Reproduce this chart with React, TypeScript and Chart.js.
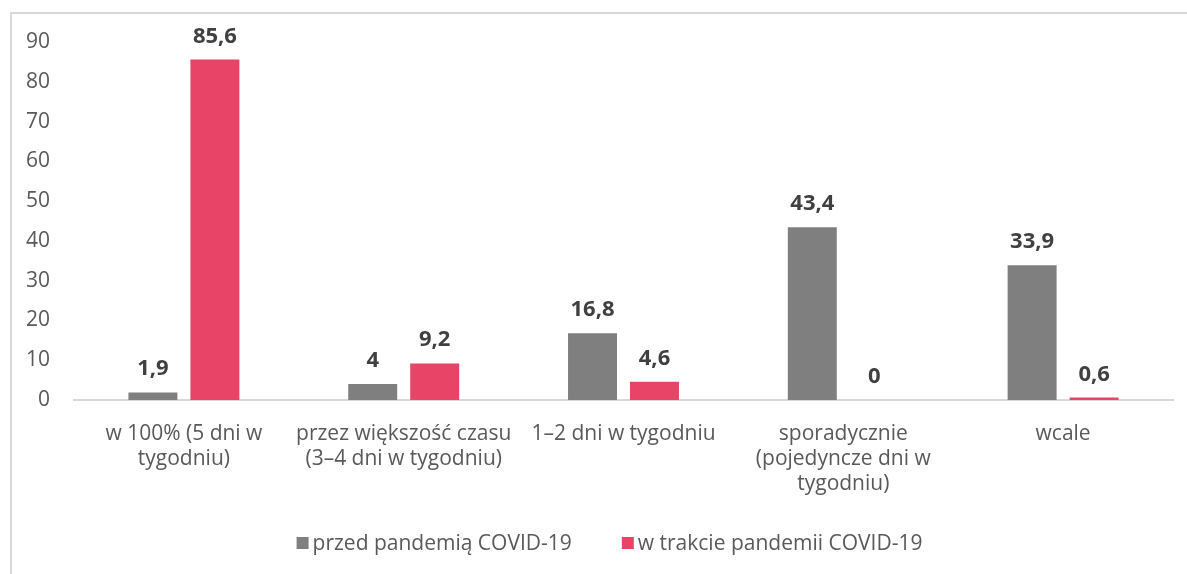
import React, { useEffect, useRef } from "react";
import { Chart, registerables } from "chart.js";

Chart.register(...registerables);

const categories: string[][] = [
  ["w 100% (5 dni w", "tygodniu)"],
  ["przez większość czasu", "(3–4 dni w tygodniu)"],
  ["1–2 dni w tygodniu"],
  ["sporadycznie", "(pojedyncze dni w", "tygodniu)"],
  ["wcale"],
];
const seriesNames = ["przed pandemią COVID-19", "w trakcie pandemii COVID-19"];
const beforeValues = [1.9, 4, 16.8, 43.4, 33.9];
const duringValues = [85.6, 9.2, 4.6, 0, 0.6];
const seriesColors = ["#7f7f7f", "#e84467"];
const yTicks = { min: 0, max: 90, step: 10 };

const FONT = "'Open Sans', 'Noto Sans', sans-serif";

const dataLabelPlugin = {
  id: "dataLabels",
  afterDatasetsDraw(chart: any) {
    const ctx = chart.ctx;
    ctx.save();
    ctx.font = `bold 22px ${FONT}`;
    ctx.fillStyle = "#404040";
    ctx.textAlign = "center";
    ctx.textBaseline = "alphabetic";
    chart.data.datasets.forEach((ds: any, di: number) => {
      const meta = chart.getDatasetMeta(di);
      meta.data.forEach((bar: any, i: number) => {
        const v = ds.data[i];
        const txt = String(v).replace(".", ",");
        ctx.fillText(txt, bar.x, bar.y - 17);
      });
    });
    ctx.restore();
  },
};

const legendPlugin = {
  id: "customLegend",
  afterDraw(chart: any) {
    const ctx = chart.ctx;
    ctx.save();
    ctx.font = `21px ${FONT}`;
    ctx.textBaseline = "middle";
    ctx.textAlign = "left";
    const box = 12;
    const gap = 4;
    const itemGap = 50;
    const items = chart.data.datasets.map((ds: any) => ({
      label: ds.label,
      color: ds.backgroundColor,
      w: box + gap + ctx.measureText(ds.label).width,
    }));
    const total = items.reduce((s: number, it: any) => s + it.w, 0) + itemGap * (items.length - 1);
    let x = chart.width / 2 + 16 - total / 2;
    const y = 543;
    items.forEach((it: any) => {
      ctx.fillStyle = it.color;
      ctx.fillRect(x, y - box / 2, box, box);
      ctx.fillStyle = "#595959";
      ctx.fillText(it.label, x + box + gap, y + 1);
      x += it.w + itemGap;
    });
    ctx.restore();
  },
};

export default function App() {
  const ref = useRef<HTMLCanvasElement>(null);
  useEffect(() => {
    if (!ref.current) return;
    const chart = new Chart(ref.current, {
      type: "bar",
      data: {
        labels: categories,
        datasets: [
          {
            label: seriesNames[0],
            data: beforeValues,
            backgroundColor: seriesColors[0],
            categoryPercentage: 0.564,
            barPercentage: 0.79,
          },
          {
            label: seriesNames[1],
            data: duringValues,
            backgroundColor: seriesColors[1],
            categoryPercentage: 0.564,
            barPercentage: 0.79,
          },
        ],
      },
      options: {
        responsive: false,
        animation: false,
        layout: { padding: { top: 42, right: 14, left: 0, bottom: 0 } },
        plugins: {
          legend: { display: false },
          tooltip: { enabled: false },
        },
        scales: {
          x: {
            grid: { display: false, drawTicks: false },
            border: { display: true, color: "#d9d9d9", width: 2 },
            ticks: {
              color: "#595959",
              font: { family: FONT, size: 21, lineHeight: 1.2 },
              padding: 21,
              maxRotation: 0,
              autoSkip: false,
            },
            afterFit(scale: any) {
              scale.height = 174;
            },
          },
          y: {
            min: yTicks.min,
            max: yTicks.max,
            grid: { display: false, drawTicks: false },
            border: { display: false },
            ticks: {
              stepSize: yTicks.step,
              color: "#595959",
              font: { family: FONT, size: 21 },
              padding: 24,
            },
            afterFit(scale: any) {
              scale.width = 74;
            },
          },
        },
      },
      plugins: [dataLabelPlugin, legendPlugin],
    });
    return () => chart.destroy();
  }, []);

  return (
    <div
      style={{
        position: "absolute",
        left: 0,
        top: 0,
        width: 1187,
        height: 574,
        overflow: "hidden",
        background: "#ffffff",
      }}
    >
      <div
        style={{
          position: "absolute",
          left: 10,
          top: 12,
          width: 1300,
          height: 700,
          borderTop: "2px solid #d9d9d9",
          borderLeft: "2px solid #d9d9d9",
        }}
      />
      <canvas
        ref={ref}
        width={1187}
        height={574}
        style={{ position: "absolute", left: 0, top: 0, width: 1187, height: 574 }}
      />
    </div>
  );
}
